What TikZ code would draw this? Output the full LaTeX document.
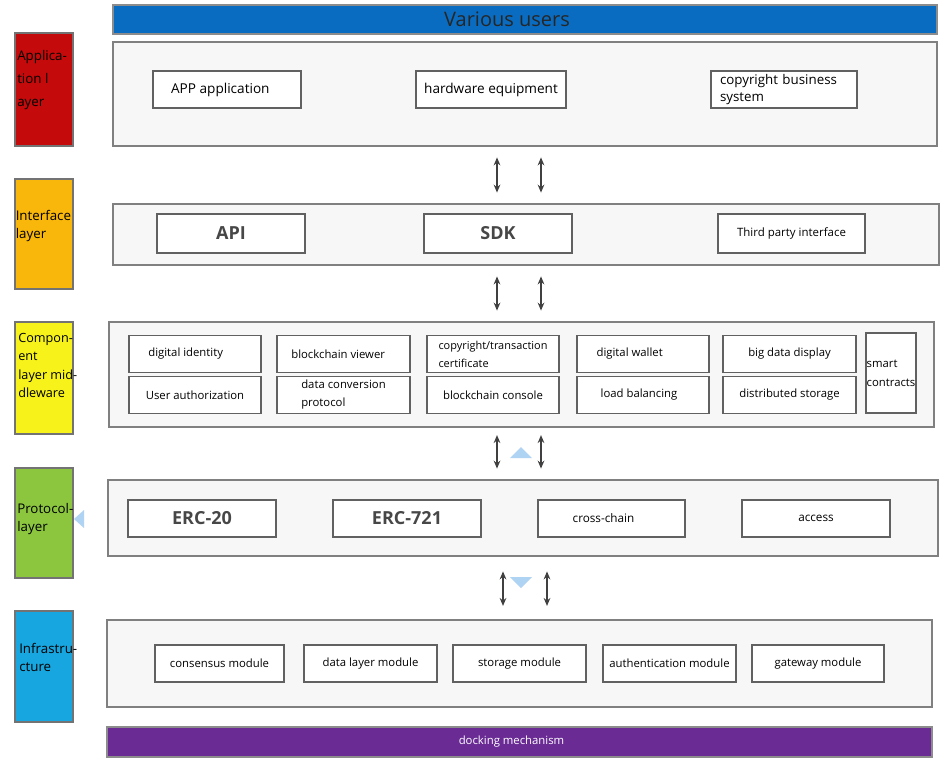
\documentclass[tikz,border=0pt]{standalone}
\usepackage{fontspec}
\setmainfont{Open Sans}
\usetikzlibrary{arrows.meta}

\definecolor{usersblue}{HTML}{0A6CC0}
\definecolor{appred}{HTML}{C40A0A}
\definecolor{ifaceorange}{HTML}{F8B70A}
\definecolor{compyellow}{HTML}{F6F21A}
\definecolor{protogreen}{HTML}{8CC63F}
\definecolor{infrablue}{HTML}{17A6E0}
\definecolor{dockpurple}{HTML}{6A2C94}
\definecolor{hintblue}{HTML}{AFD3F2}

\begin{document}
\begin{tikzpicture}[x=0.75pt,y=-0.75pt,>=Stealth,
  panel/.style={draw=black!50,fill=black!3,line width=1.1pt,inner sep=0pt},
  cell/.style={draw=black!62,fill=white,line width=1.1pt,inner sep=1pt,
    minimum height=27.75pt,font=\fontsize{8.5}{11}\selectfont},
  bigcell/.style={cell,text=black!72,font=\fontsize{13.5}{15}\bfseries},
  tag/.style={draw=black!55,line width=0.9pt,minimum width=43.5pt},
  tagtxt/.style={align=left,inner sep=0pt,anchor=west,
    font=\fontsize{10}{13.5}\selectfont},
  updown/.style={{Stealth[length=6pt,width=5pt]}-{Stealth[length=6pt,width=5pt]},
    black!75,line width=1.1pt,shorten <=8pt,shorten >=8pt},
  hint/.style={fill=hintblue,draw=none}]
  \useasboundingbox (0,0) rectangle (948,765);

  % layer tags on the left
  \node[tag,fill=appred,minimum height=84.75pt] (tapp) at (44,89.5) {};
  \node[tag,fill=ifaceorange,minimum height=82.5pt] (tiface) at (44,234) {};
  \node[tag,fill=compyellow,minimum height=84pt] (tcomp) at (44,378) {};
  \node[tag,fill=protogreen,minimum height=82.5pt] (tproto) at (44,523) {};
  \node[tag,fill=infrablue,minimum height=83.25pt] (tinfra) at (44,666.5) {};
  \node[tagtxt,font=\fontsize{10}{17.25}\selectfont] (lapp) at (17,80) {Applica-\\tion l\\ayer};
  \node[tagtxt] (liface) at (15.5,226) {Interface\\layer};
  \node[tagtxt,font=\fontsize{9.5}{13.8}\selectfont] (lcomp) at (18,365.5) {Compon-\\ent\\layer mid-\\dleware};
  \node[tagtxt] (lproto) at (17,519) {Protocol-\\layer};
  \node[tagtxt] (linfra) at (19,657) {Infrastru-\\cture};

  % top and bottom bars
  \node[draw=black!45,fill=usersblue,line width=0.9pt,minimum width=618pt,minimum height=21.75pt,
    text=black!85,font=\fontsize{15}{17}\selectfont] (users) at (525,19.5) {Various users\hspace{27pt}\mbox{}};
  \node[draw=black!45,fill=dockpurple,line width=0.9pt,minimum width=618.75pt,minimum height=22.5pt,
    text=white,font=\fontsize{8.5}{10}\selectfont] (dock) at (519.5,742) {docking mechanism\hspace{12pt}\mbox{}};

  % layer panels
  \node[panel,minimum width=618pt,minimum height=78pt] (app) at (525,94) {};
  \node[panel,minimum width=619.5pt,minimum height=45.75pt] (iface) at (526,234.5) {};
  \node[panel,minimum width=618.75pt,minimum height=78.75pt] (comp) at (521.5,374.5) {};
  \node[panel,minimum width=622.5pt,minimum height=57pt] (proto) at (523,518) {};
  \node[panel,minimum width=618.75pt,minimum height=65.25pt] (infra) at (519.5,663.5) {};

  % application layer
  \node[cell,minimum width=111pt,font=\fontsize{10.2}{11}\selectfont] (appapp) at (227,89.5) {APP application\hspace{10pt}\mbox{}};
  \node[cell,minimum width=112.5pt,font=\fontsize{10.2}{11}\selectfont] (hardware) at (491,89.5) {hardware equipment};
  \node[cell,minimum width=109.5pt,text width=96pt,align=left,font=\fontsize{10}{13}\selectfont]
    (business) at (784,89.5) {copyright business\\system};

  % interface layer
  \node[bigcell,minimum width=111pt,minimum height=29.25pt] (api) at (231,233.5) {API};
  \node[bigcell,minimum width=111pt,minimum height=29.25pt] (sdk) at (498,233.5) {SDK};
  \node[cell,minimum width=110.25pt,minimum height=29.25pt,font=\fontsize{8.6}{9}\selectfont]
    (third) at (791.5,233.5) {Third party interface};

  % component layer
  \node[cell,minimum width=99pt] (identity) at (195,354) {digital identity\hspace{14pt}\mbox{}};
  \node[cell,minimum width=99.75pt] (viewer) at (343.5,354) {blockchain viewer\hspace{8pt}\mbox{}};
  \node[cell,minimum width=99pt,align=left,font=\fontsize{8.2}{13.5}\selectfont] (cert) at (493,354) {copyright/transaction\\certificate};
  \node[cell,minimum width=99pt] (wallet) at (643,354) {digital wallet\hspace{20pt}\mbox{}};
  \node[cell,minimum width=99.75pt] (bigdata) at (789.5,354) {big data display};
  \node[cell,minimum width=99pt] (authz) at (195,395) {User authorization};
  \node[cell,minimum width=99.75pt,align=left,font=\fontsize{8.5}{13.5}\selectfont] (convert) at (343.5,395) {data conversion\\protocol};
  \node[cell,minimum width=99pt] (console) at (493,395) {blockchain console};
  \node[cell,minimum width=99pt] (balance) at (643,395) {load balancing\hspace{6pt}\mbox{}};
  \node[cell,minimum width=99.75pt] (storage) at (789.5,395) {distributed storage};
  \node[cell,minimum width=37.5pt,minimum height=60pt,inner sep=0pt,align=left,font=\fontsize{8.5}{14}\selectfont]
    (smart) at (891,373) {smart\\contracts};

  % protocol layer
  \node[bigcell,minimum width=111pt] (erc20) at (202,518.5) {ERC-20};
  \node[bigcell,minimum width=111pt] (erc721) at (407,518.5) {ERC-721};
  \node[cell,minimum width=110.25pt,font=\fontsize{8.8}{11}\selectfont] (cross) at (611.5,518.5) {cross-chain\hspace{12pt}\mbox{}};
  \node[cell,minimum width=111pt,font=\fontsize{8.8}{11}\selectfont] (access) at (816,518.5) {access};

  % infrastructure
  \node[cell,minimum width=96.75pt] (consensus) at (219.5,663.5) {consensus module};
  \node[cell,minimum width=99.75pt] (datalayer) at (370.5,663.5) {data layer module};
  \node[cell,minimum width=99.75pt] (storemod) at (519.5,663.5) {storage module};
  \node[cell,minimum width=99.75pt] (authmod) at (669.5,663.5) {authentication module};
  \node[cell,minimum width=99pt] (gateway) at (818,663.5) {gateway module};

  % links between layers
  \coordinate (ax1) at (497,0);
  \coordinate (ax2) at (541,0);
  \coordinate (bx1) at (503,0);
  \coordinate (bx2) at (547,0);
  \draw[updown] (app.south -| ax1) -- (iface.north -| ax1);
  \draw[updown] (app.south -| ax2) -- (iface.north -| ax2);
  \draw[updown] (iface.south -| ax1) -- (comp.north -| ax1);
  \draw[updown] (iface.south -| ax2) -- (comp.north -| ax2);
  \draw[updown,shorten <=5.5pt] (comp.south -| ax1) -- (proto.north -| ax1);
  \draw[updown,shorten <=5.5pt] (comp.south -| ax2) -- (proto.north -| ax2);
  \draw[updown,shorten <=11pt,shorten >=10pt] (proto.south -| bx1) -- (infra.north -| bx1);
  \draw[updown,shorten <=11pt,shorten >=10pt] (proto.south -| bx2) -- (infra.north -| bx2);

  % faint markers
  \fill[hint] (510,458) -- (521,447) -- (532,458) -- cycle;
  \fill[hint] (510,577) -- (521,588) -- (532,577) -- cycle;
  \fill[hint] (74,519) -- (84,510) -- (84,528) -- cycle;
\end{tikzpicture}
\end{document}
